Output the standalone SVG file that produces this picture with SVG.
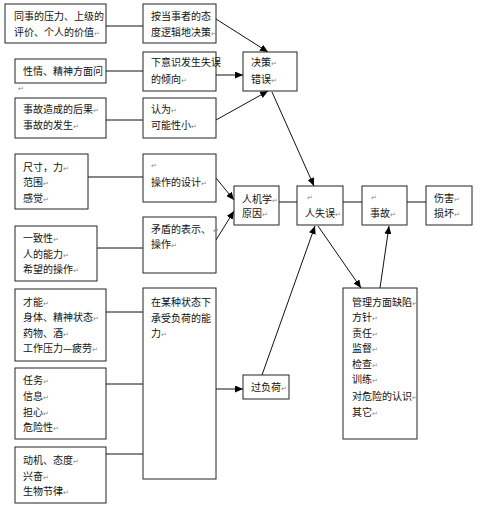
<svg xmlns="http://www.w3.org/2000/svg" width="480" height="506" viewBox="0 0 480 506">
<defs>
<marker id="ah" markerUnits="userSpaceOnUse" markerWidth="9" markerHeight="7" refX="8" refY="3.5" orient="auto">
<path d="M0,0 L8,3.5 L0,7 z" fill="#000"/>
</marker>
<style>
.b{fill:#fff;stroke:#222;stroke-width:1}
.t{font-family:"Noto Sans CJK SC","Noto Sans CJK JP",sans-serif;font-size:10px;fill:#111}
.p{font-size:7px;fill:#888}
.c line,.c polyline{stroke:#111;stroke-width:1;fill:none}
.a{marker-end:url(#ah)}
</style>
</defs>
<rect width="480" height="506" fill="#fff"/>

<g class="c" id="connectors">
<line x1="106" y1="26" x2="143" y2="26"/>
<line x1="106" y1="71" x2="143" y2="71"/>
<line x1="106" y1="120" x2="143" y2="120"/>
<line x1="88" y1="177" x2="143" y2="177"/>
<line x1="97" y1="248" x2="143" y2="248"/>
<line x1="106" y1="312" x2="143" y2="312"/>
<line x1="106" y1="384" x2="143" y2="384"/>
<line x1="106" y1="454" x2="143" y2="454"/>
<line class="a" x1="216" y1="19" x2="268" y2="52"/>
<line class="a" x1="216" y1="75" x2="243" y2="75"/>
<line class="a" x1="216" y1="120" x2="268" y2="91"/>
<line class="a" x1="272" y1="92" x2="314" y2="186"/>
<line class="a" x1="216" y1="178" x2="234" y2="200"/>
<line class="a" x1="216" y1="240" x2="234" y2="211"/>
<line x1="279" y1="202" x2="297" y2="202"/>
<line x1="343" y1="202" x2="362" y2="202"/>
<line x1="407" y1="202" x2="426" y2="202"/>
<line class="a" x1="262" y1="375" x2="315" y2="226"/>
<line class="a" x1="318" y1="226" x2="361" y2="288"/>
<line class="a" x1="380" y1="288" x2="389" y2="226"/>
<line class="a" x1="216" y1="389" x2="243" y2="389"/>
</g>

<g id="n1"><rect class="b" x="5" y="4" width="101" height="39"/>
<text class="t" x="14" y="19.5">同事的压力、上级的</text>
<text class="t" x="14" y="35.5">评价、个人的价值<tspan class="p">↵</tspan></text></g>

<g id="n2"><rect class="b" x="15" y="59" width="91" height="24"/>
<text class="t" x="23" y="74.5">性情、精神方面问</text>
<text class="t p" x="18" y="91">↵</text></g>

<g id="n3"><rect class="b" x="15" y="98" width="91" height="40"/>
<text class="t" x="23" y="112.5">事故造成的后果<tspan class="p">↵</tspan></text>
<text class="t" x="23" y="128.5">事故的发生<tspan class="p">↵</tspan></text></g>

<g id="n4"><rect class="b" x="143" y="4" width="73" height="39"/>
<text class="t" x="151" y="19.5">按当事者的态</text>
<text class="t" x="151" y="35.5">度逻辑地决策<tspan class="p">↵</tspan></text></g>

<g id="n5"><rect class="b" x="143" y="52" width="73" height="39"/>
<text class="t" x="151" y="65.5">下意识发生失误</text>
<text class="t" x="151" y="82.5">的倾向<tspan class="p">↵</tspan></text></g>

<g id="n6"><rect class="b" x="143" y="98" width="73" height="40"/>
<text class="t" x="151" y="112.5">认为<tspan class="p">↵</tspan></text>
<text class="t" x="151" y="128.5">可能性小<tspan class="p">↵</tspan></text></g>

<g id="n7"><rect class="b" x="243" y="52" width="54" height="39"/>
<text class="t" x="251" y="65.5">决策<tspan class="p">↵</tspan></text>
<text class="t" x="251" y="82.5">错误<tspan class="p">↵</tspan></text></g>

<g id="n8"><rect class="b" x="15" y="154" width="73" height="55"/>
<text class="t" x="23" y="170.5">尺寸，力<tspan class="p">↵</tspan></text>
<text class="t" x="23" y="185.5">范围<tspan class="p">↵</tspan></text>
<text class="t" x="23" y="201.5">感觉<tspan class="p">↵</tspan></text></g>

<g id="n9"><rect class="b" x="15" y="226" width="82" height="55"/>
<text class="t" x="23" y="241.5">一致性<tspan class="p">↵</tspan></text>
<text class="t" x="23" y="257.5">人的能力<tspan class="p">↵</tspan></text>
<text class="t" x="23" y="272.5">希望的操作<tspan class="p">↵</tspan></text></g>

<g id="n10"><rect class="b" x="143" y="154" width="73" height="48"/>
<text class="t p" x="151" y="168">↵</text>
<text class="t" x="151" y="185.5">操作的设计<tspan class="p">↵</tspan></text></g>

<g id="n11"><rect class="b" x="143" y="217" width="73" height="56"/>
<text class="t" x="151" y="232.5">矛盾的表示、 <tspan class="p">↵</tspan></text>
<text class="t" x="151" y="247.5">操作<tspan class="p">↵</tspan></text></g>

<g id="n12"><rect class="b" x="234" y="186" width="45" height="39"/>
<text class="t" x="242" y="202.5">人机学<tspan class="p">↵</tspan></text>
<text class="t" x="242" y="216.5">原因<tspan class="p">↵</tspan></text></g>

<g id="n13"><rect class="b" x="297" y="186" width="46" height="39"/>
<text class="t p" x="307" y="200">↵</text>
<text class="t" x="305" y="216.5">人失误<tspan class="p">↵</tspan></text></g>

<g id="n14"><rect class="b" x="362" y="186" width="45" height="39"/>
<text class="t p" x="371" y="200">↵</text>
<text class="t" x="370" y="216.5">事故<tspan class="p">↵</tspan></text></g>

<g id="n15"><rect class="b" x="426" y="186" width="46" height="39"/>
<text class="t" x="434" y="201.5">伤害<tspan class="p">↵</tspan></text>
<text class="t" x="434" y="216.5">损坏<tspan class="p">↵</tspan></text></g>

<g id="n16"><rect class="b" x="15" y="289" width="91" height="72"/>
<text class="t" x="23" y="305.5">才能<tspan class="p">↵</tspan></text>
<text class="t" x="23" y="320.5">身体、精神状态<tspan class="p">↵</tspan></text>
<text class="t" x="23" y="336.5">药物、酒<tspan class="p">↵</tspan></text>
<text class="t" x="23" y="351.5">工作压力—疲劳<tspan class="p">↵</tspan></text></g>

<g id="n17"><rect class="b" x="15" y="368" width="91" height="71"/>
<text class="t" x="23" y="383.5">任务<tspan class="p">↵</tspan></text>
<text class="t" x="23" y="399.5">信息<tspan class="p">↵</tspan></text>
<text class="t" x="23" y="415.5">担心<tspan class="p">↵</tspan></text>
<text class="t" x="23" y="430.5">危险性<tspan class="p">↵</tspan></text></g>

<g id="n18"><rect class="b" x="15" y="447" width="91" height="56"/>
<text class="t" x="23" y="463.5">动机、态度<tspan class="p">↵</tspan></text>
<text class="t" x="23" y="479.5">兴奋<tspan class="p">↵</tspan></text>
<text class="t" x="23" y="494.5">生物节律<tspan class="p">↵</tspan></text></g>

<g id="n19"><rect class="b" x="143" y="288" width="73" height="191"/>
<text class="t" x="151" y="305.5">在某种状态下</text>
<text class="t" x="151" y="321.5">承受负荷的能</text>
<text class="t" x="151" y="336.5">力<tspan class="p">↵</tspan></text></g>

<g id="n20"><rect class="b" x="243" y="375" width="46" height="24"/>
<text class="t" x="251" y="390.5">过负荷<tspan class="p">↵</tspan></text></g>

<g id="n21"><rect class="b" x="343" y="288" width="74" height="151"/>
<text class="t" x="352" y="305.5">管理方面缺陷<tspan class="p">↵</tspan></text>
<text class="t" x="352" y="320.5">方针<tspan class="p">↵</tspan></text>
<text class="t" x="352" y="336.5">责任<tspan class="p">↵</tspan></text>
<text class="t" x="352" y="351.5">监督<tspan class="p">↵</tspan></text>
<text class="t" x="352" y="367.5">检查<tspan class="p">↵</tspan></text>
<text class="t" x="352" y="382.5">训练<tspan class="p">↵</tspan></text>
<text class="t" x="352" y="399.5">对危险的认识<tspan class="p">↵</tspan></text>
<text class="t" x="352" y="415.5">其它<tspan class="p">↵</tspan></text></g>
</svg>
